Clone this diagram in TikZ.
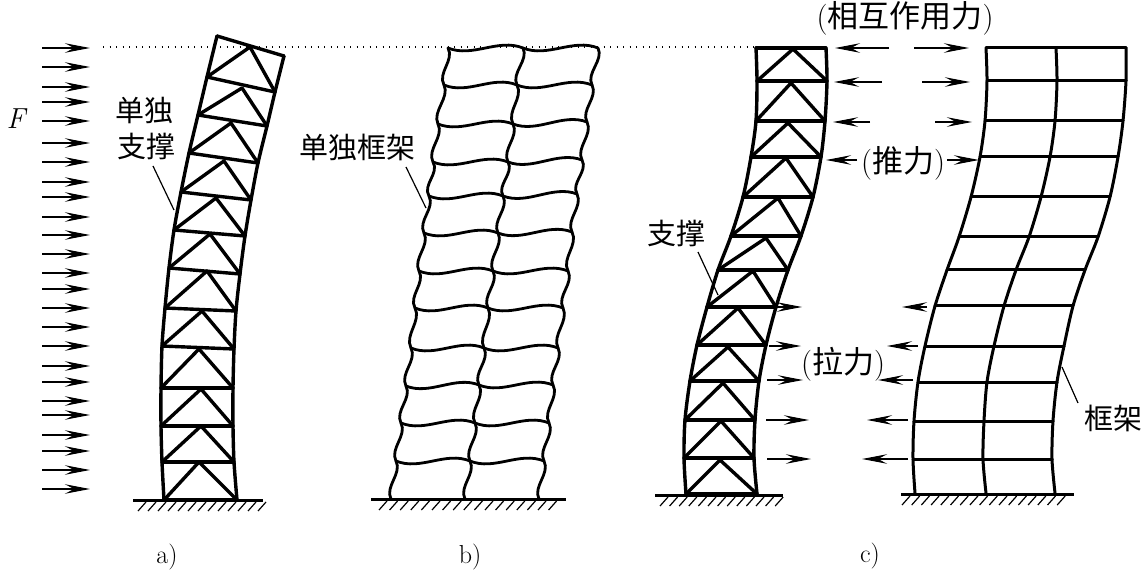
\documentclass[tikz,border=0pt]{standalone}
\usepackage{fontspec}
\newfontfamily\cjk{Noto Sans CJK SC}
\usetikzlibrary{arrows.meta,calc}
\tikzset{
  memb/.style={line width=3.4pt,line cap=round,line join=round},
  framem/.style={line width=3pt,line cap=round,line join=round},
  wavy/.style={line width=2.8pt,line cap=round},
  fline/.style={line width=1.3pt,-{Stealth[length=25pt,width=9.5pt,inset=9pt]}},
  lead/.style={line width=1.2pt},
  gnd/.style={line width=3pt},
  hat/.style={line width=1.2pt},
  lab/.style={inner sep=0pt,font=\fontsize{29}{31}\selectfont\cjk},
  parenlab/.style={inner sep=0pt,font=\fontsize{31}{33}\selectfont},
  sub/.style={inner sep=0pt,font=\fontsize{26}{28}\selectfont}
}
\newcommand{\Cj}[1]{{\cjk #1}}
\newcommand{\namepts}[2]{\foreach \px/\py [count=\n] in {#2} {\coordinate (#1\n) at (\px,\py);}}
\newcommand{\trusspanels}[1]{%
  \foreach \i in {1,...,13} {\draw[memb] (#1L\i) -- (#1R\i);}
  \foreach \i [evaluate=\i as \j using int(\i+1)] in {1,...,12} {\draw[memb] (#1L\j) -- (#1A\i) -- (#1R\j);}
  \draw[memb] plot[smooth,tension=.5] coordinates {(#1L1)(#1L2)(#1L3)(#1L4)(#1L5)(#1L6)(#1L7)(#1L8)(#1L9)(#1L10)(#1L11)(#1L12)(#1L13)};
  \draw[memb] plot[smooth,tension=.5] coordinates {(#1R1)(#1R2)(#1R3)(#1R4)(#1R5)(#1R6)(#1R7)(#1R8)(#1R9)(#1R10)(#1R11)(#1R12)(#1R13)};
}
\newcommand{\beamwave}[2]{\draw[wavy] (#1) .. controls ($(#1)!0.33!(#2)+(0,10)$) and ($(#1)!0.67!(#2)+(0,-10)$) .. (#2);}
\newcommand{\colwave}[2]{\draw[wavy] (#1) .. controls ($(#1)!0.33!(#2)+(8,0)$) and ($(#1)!0.67!(#2)+(-8,0)$) .. (#2);}
\newcommand{\hatches}[4]{\foreach \k in {0,...,#3} {\draw[hat] ({#1+\k*#4},#2) -- ({#1+\k*#4-8},#2+9);}}
\begin{document}
\begin{tikzpicture}[x=1pt,y=-1pt]
\useasboundingbox (0,0) rectangle (1144,572);
% dotted level
\coordinate (dotA) at (103,47);
\coordinate (dotB) at (756,47);
\draw[line width=1.2pt,dash pattern=on 1.2pt off 5.3pt] (dotA) -- (dotB);
% wind arrows
\foreach \y in {48,67,87,102,121,143,162,182,197,217,235,254,273,289,308,327,346,366,382,401,415,435,451,470,489}
  {\draw[fline] (42,\y) -- (90,\y);}
\node[inner sep=0pt,font=\fontsize{29}{31}\selectfont\itshape] (Flab) at (16,119) {F};
% a) truss
\namepts{aL}{217/36,207/77,198/115,189/153,181/192,174/230,169/268,165/308,162/346,161/388,161/426,162/462,164/500}
\namepts{aR}{284/56,275/92,267/126,258/163,251/200,245/236,240/274,236/311,234/349,233/388,233/426,234/462,237/500}
\namepts{aA}{250/47,242/88,231/123,224/161,216/198,210/234,207/271,202/311,199/349,201/389,201/426,199/462}
\trusspanels{a}
\coordinate (g1a) at (133,500); \coordinate (g1b) at (263,500);
\draw[gnd] (g1a) -- (g1b);
\hatches{146}{502}{12}{10}
\node[lab] (dd1) at (144,110) {单独};
\node[lab] (zc1) at (146,146) {支撑};
\coordinate (l1a) at (153,166); \coordinate (l1b) at (174,210);
\draw[lead] (l1a) -- (l1b);
\node[sub] (cap1) at (167,557) {a)};
% b) wavy frame
\namepts{bL}{448/48,444/85,438/124,433/162,429/196,424/233,419/271,415/308,411/348,406/386,401/423,396/461,391/499}
\namepts{bM}{523/48,517/85,513/124,508/162,503/196,498/233,493/271,488/308,484/348,479/385,475/423,470/461,465/499}
\namepts{bR}{598/48,592/85,587/122,582/160,577/194,572/232,568/271,563/308,558/348,553/385,549/423,544/461,539/499}
\foreach \i in {1,...,12} {\beamwave{bL\i}{bM\i}\beamwave{bM\i}{bR\i}}
\foreach \i [evaluate=\i as \j using int(\i+1)] in {1,...,12}
  {\colwave{bL\i}{bL\j}\colwave{bM\i}{bM\j}\colwave{bR\i}{bR\j}}
\coordinate (g2a) at (371,499); \coordinate (g2b) at (566,499);
\draw[gnd] (g2a) -- (g2b);
\hatches{387}{501}{16}{10.6}
\node[lab] (dd2) at (357,147) {单独框架};
\coordinate (l2a) at (406,167); \coordinate (l2b) at (426,208);
\draw[lead] (l2a) -- (l2b);
\node[sub] (cap2) at (470,557) {b)};
% c) truss
\namepts{cL}{756/48,757/81,756/121,751/157,743/197,731/236,718/270,707/307,697/345,690/381,685/420,684/458,686/494}
\namepts{cR}{826/48,827/81,825/121,821/157,813/197,801/236,788/270,776/307,766/345,759/381,755/420,754/458,757/494}
\namepts{cA}{793/49,791/83,788/123,786/158,778/198,766/238,753/271,738/308,728/347,723/383,721/421,720/460}
\trusspanels{c}
\coordinate (g3a) at (655,495); \coordinate (g3b) at (783,495);
\draw[gnd] (g3a) -- (g3b);
\hatches{668}{497}{12}{9.6}
% c) frame
\namepts{dL}{986/48,987/81,985/121,980/157,971/197,959/237,947/270,935/306,925/346,918/382,914/421,913/459,915/493}
\namepts{dM}{1056/48,1057/81,1055/121,1050/157,1041/197,1029/237,1016/270,1004/306,994/346,987/382,984/421,983/459,986/493}
\namepts{dR}{1126/48,1126/81,1123/121,1118/157,1110/197,1098/237,1085/270,1073/306,1064/346,1057/382,1053/421,1052/459,1055/493}
\foreach \i in {1,...,12} {\draw[framem] (dL\i) -- (dR\i);}
\foreach \s in {dL,dM,dR}
 {\draw[framem] plot[smooth,tension=.5] coordinates {(\s1)(\s2)(\s3)(\s4)(\s5)(\s6)(\s7)(\s8)(\s9)(\s10)(\s11)(\s12)(\s13)};}
\coordinate (g4a) at (901,494); \coordinate (g4b) at (1074,494);
\draw[gnd] (g4a) -- (g4b);
\hatches{910}{496}{16}{9.7}
% interaction arrows upper
\foreach \tl/\hl/\tr/\hr/\y in {889/835/914/969/48,882/834/922/970/82,870/833/935/972/122}
  {\draw[fline] (\tl,\y) -- (\hl,\y); \draw[fline] (\tr,\y) -- (\hr,\y);}
\draw[fline] (857,160) -- (826,160);
\draw[fline] (947,160) -- (979,160);
% interaction arrows lower
\foreach \tl/\hl/\tr/\hr/\y in {775/802/927/902/307,769/801/918/887/346,767/803/913/878/380,766/809/908/867/420,767/811/908/862/459}
  {\draw[fline] (\tl,\y) -- (\hl,\y); \draw[fline] (\tr,\y) -- (\hr,\y);}
% labels
\node[parenlab] (xh) at (905,18) {(\Cj{相互作用力})};
\node[parenlab] (tl) at (903,163) {(\Cj{推力})};
\node[parenlab] (ll) at (843,364) {(\Cj{拉力})};
\node[lab] (zc3) at (676,233) {支撑};
\coordinate (l3a) at (698,252); \coordinate (l3b) at (718,295);
\draw[lead] (l3a) -- (l3b);
\node[lab] (kj) at (1113,418) {框架};
\coordinate (l4a) at (1062,367); \coordinate (l4b) at (1078,403);
\draw[lead] (l4a) -- (l4b);
\node[sub] (cap3) at (870,556) {c)};
\end{tikzpicture}
\end{document}
